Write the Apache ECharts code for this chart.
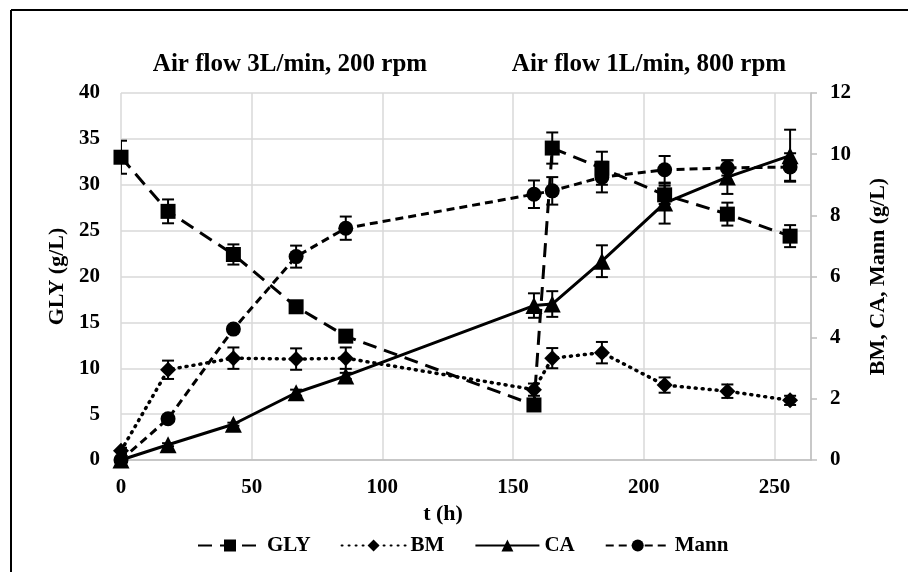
<!DOCTYPE html>
<html>
<head>
<meta charset="utf-8">
<title>GLY, BM, CA, Mann vs time</title>
<script src="https://cdn.jsdelivr.net/npm/echarts@6/dist/echarts.min.js"></script>
<style>
  html, body { margin: 0; padding: 0; background: #fff; }
  #chart { width: 908px; height: 572px; }
</style>
</head>
<body>
<div id="chart"></div>
<script>
// sampling times (h)
var times = [0, 18, 43, 67, 86, 158, 165, 184, 208, 232, 256]

// glycerol, left axis (g/L)
var gly = [33.0, 27.1, 22.4, 16.7, 13.5, 6.0, 34.0, 31.8, 28.9, 26.8, 24.4]
var glyErr = [1.8, 1.3, 1.1, 0.5, 0.5, 0.4, 1.7, 1.8, 1.0, 1.25, 1.2]

// right axis (g/L)
var bm = [0.3, 2.95, 3.33, 3.3, 3.33, 2.3, 3.33, 3.51, 2.45, 2.25, 1.95]
var bmErr = [0.1, 0.3, 0.35, 0.35, 0.35, 0.2, 0.33, 0.35, 0.25, 0.22, 0.15]
var ca = [0, 0.5, 1.17, 2.2, 2.75, 5.05, 5.1, 6.5, 8.4, 9.25, 9.95]
var caErr = [0, 0.05, 0.05, 0.1, 0.1, 0.4, 0.42, 0.52, 0.67, 0.55, 0.85]
var mann = [0, 1.35, 4.28, 6.65, 7.58, 8.69, 8.8, 9.25, 9.49, 9.55, 9.58]
var mannErr = [0.05, 0.1, 0.1, 0.36, 0.38, 0.45, 0.45, 0.5, 0.45, 0.25, 0.45]

var titles = ['Air flow 3L/min, 200 rpm', 'Air flow 1L/min, 800 rpm']
var legendNames = ['GLY', 'BM', 'CA', 'Mann']

var font = '"Liberation Serif", "Times New Roman", serif'
var gridColor = '#d9d9d9'

function pairs(values) {
  return times.map(function (t, i) { return [t, values[i]] })
}

function errData(values, errs) {
  return times.map(function (t, i) { return [t, values[i], errs[i]] })
}

function lineSeries(name, values, axis, symbol, size, dash, width) {
  return {
    name: name,
    type: 'line',
    yAxisIndex: axis,
    data: pairs(values),
    symbol: symbol,
    symbolSize: size,
    showAllSymbol: true,
    itemStyle: { color: '#000' },
    lineStyle: { color: '#000', width: width, type: dash, cap: dash[0] < 2 ? 'round' : 'butt' },
    emphasis: { disabled: true },
    z: 3
  }
}

function errorBars(name, values, errs, axis) {
  return {
    name: name + ' err',
    type: 'custom',
    yAxisIndex: axis,
    data: errData(values, errs),
    encode: { x: 0, y: 1 },
    clip: true,
    silent: true,
    z: 4,
    renderItem: function (params, api) {
      var x = api.value(0)
      var y = api.value(1)
      var e = api.value(2)
      if (!e) {
        return
      }
      var hi = api.coord([x, y + e])
      var lo = api.coord([x, y - e])
      var w = 6
      var style = { stroke: '#000', lineWidth: 2 }
      return {
        type: 'group',
        children: [
          { type: 'line', shape: { x1: hi[0], y1: hi[1], x2: lo[0], y2: lo[1] }, style: style },
          { type: 'line', shape: { x1: hi[0] - w, y1: hi[1], x2: hi[0] + w, y2: hi[1] }, style: style },
          { type: 'line', shape: { x1: lo[0] - w, y1: lo[1], x2: lo[0] + w, y2: lo[1] }, style: style }
        ]
      }
    }
  }
}

var chart = echarts.init(document.getElementById('chart'))

chart.setOption({
  animation: false,
  backgroundColor: '#fff',
  textStyle: { fontFamily: font },
  title: [
    {
      text: titles[0], left: 285, top: 47, textAlign: 'center',
      textStyle: { fontFamily: font, fontSize: 25, fontWeight: 'bold', color: '#000' }
    },
    {
      text: titles[1], left: 644, top: 47, textAlign: 'center',
      textStyle: { fontFamily: font, fontSize: 25, fontWeight: 'bold', color: '#000' }
    }
  ],
  graphic: [
    { type: 'line', shape: { x1: 11, y1: 10, x2: 908, y2: 10 }, style: { stroke: '#000', lineWidth: 2 } },
    { type: 'line', shape: { x1: 11, y1: 10, x2: 11, y2: 572 }, style: { stroke: '#000', lineWidth: 2 } }
  ],
  grid: {
    left: 121,
    right: 97,
    top: 93,
    bottom: 112
  },
  legend: {
    data: legendNames,
    left: 192,
    top: 530,
    itemWidth: 64,
    itemHeight: 15,
    itemGap: 30,
    textStyle: { fontFamily: font, fontSize: 21, fontWeight: 'bold', color: '#000' }
  },
  xAxis: {
    type: 'value',
    min: 0,
    max: 264,
    interval: 50,
    name: 't (h)',
    nameLocation: 'middle',
    nameGap: 40,
    nameTextStyle: { fontFamily: font, fontSize: 22, fontWeight: 'bold', color: '#000', padding: [0, 46, 0, 0] },
    axisLine: { show: true, lineStyle: { color: '#bfbfbf', width: 1.5 } },
    axisTick: { show: false },
    axisLabel: { showMaxLabel: false, margin: 17, fontFamily: font, fontSize: 21, fontWeight: 'bold', color: '#000' },
    splitLine: { show: true, lineStyle: { color: gridColor, width: 1.5 } }
  },
  yAxis: [
    {
      type: 'value',
      min: 0,
      max: 40,
      interval: 5,
      name: 'GLY (g/L)',
      nameLocation: 'middle',
      nameGap: 50,
      nameTextStyle: { fontFamily: font, fontSize: 22, fontWeight: 'bold', color: '#000' },
      axisLine: { show: false },
      axisTick: { show: false },
      axisLabel: { margin: 21, fontFamily: font, fontSize: 21, fontWeight: 'bold', color: '#000' },
      splitLine: { show: true, lineStyle: { color: gridColor, width: 1.5 } }
    },
    {
      type: 'value',
      min: 0,
      max: 12,
      interval: 2,
      position: 'right',
      name: 'BM, CA, Mann (g/L)',
      nameLocation: 'middle',
      nameGap: 56,
      nameTextStyle: { fontFamily: font, fontSize: 22, fontWeight: 'bold', color: '#000' },
      axisLine: { show: true, lineStyle: { color: '#bfbfbf', width: 1.5 } },
      axisTick: { show: true, length: 6, lineStyle: { color: '#bfbfbf', width: 1.5 } },
      axisLabel: { margin: 19, fontFamily: font, fontSize: 21, fontWeight: 'bold', color: '#000' },
      splitLine: { show: false }
    }
  ],
  series: [
    lineSeries('GLY', gly, 0, 'rect', 15, [14, 8], 3),
    lineSeries('BM', bm, 1, 'diamond', 16, [1, 6], 3.5),
    lineSeries('CA', ca, 1, 'triangle', 17, 'solid', 3),
    lineSeries('Mann', mann, 1, 'circle', 15, [8, 5], 3),
    errorBars('GLY', gly, glyErr, 0),
    errorBars('BM', bm, bmErr, 1),
    errorBars('CA', ca, caErr, 1),
    errorBars('Mann', mann, mannErr, 1)
  ]
})
</script>
</body>
</html>
